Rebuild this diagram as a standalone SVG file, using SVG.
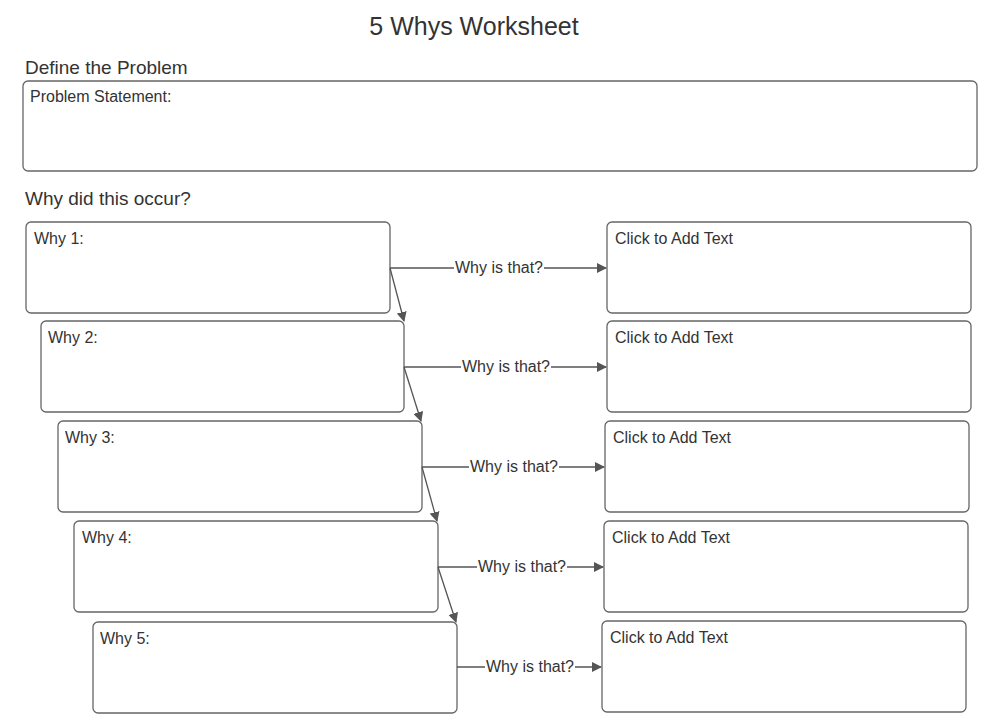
<svg xmlns="http://www.w3.org/2000/svg" width="1000" height="726" viewBox="0 0 1000 726">
<style>
text{font-family:"Liberation Sans",Arial,sans-serif;fill:#333}
.b{fill:#fff;stroke:#666;stroke-width:1.3}
.t{font-size:16px}
.h{font-size:19px}
.c{stroke:#555;stroke-width:1.3;fill:none}
.l{font-size:16px;text-anchor:middle}
.lb{fill:#fff}
</style>
<defs><marker id="a" markerWidth="10" markerHeight="10" refX="9" refY="5" orient="auto" markerUnits="userSpaceOnUse"><path d="M0,0 L10,5 L0,10 z" fill="#555"/></marker></defs>
<rect width="1000" height="726" fill="#fff"/>
<text x="474" y="35" font-size="25" text-anchor="middle">5 Whys Worksheet</text>
<text class="h" x="25" y="74">Define the Problem</text>
<text class="h" x="25" y="205">Why did this occur?</text>
<g id="problem"><rect class="b" x="23" y="81" width="954" height="90" rx="5"/><text class="t" x="30" y="102">Problem Statement:</text></g>
<g id="why1"><rect class="b" x="26" y="222" width="364" height="91" rx="5"/><text class="t" x="34" y="244">Why 1:</text></g>
<g id="why2"><rect class="b" x="41" y="321" width="363" height="91" rx="5"/><text class="t" x="48" y="343">Why 2:</text></g>
<g id="why3"><rect class="b" x="58" y="421" width="364" height="91" rx="5"/><text class="t" x="65" y="443">Why 3:</text></g>
<g id="why4"><rect class="b" x="74" y="521" width="364" height="91" rx="5"/><text class="t" x="82" y="543">Why 4:</text></g>
<g id="why5"><rect class="b" x="93" y="622" width="364" height="91" rx="5"/><text class="t" x="100" y="644">Why 5:</text></g>
<g id="ans1"><rect class="b" x="607" y="222" width="364" height="91" rx="5"/><text class="t" x="615" y="244">Click to Add Text</text></g>
<g id="ans2"><rect class="b" x="607" y="321" width="364" height="91" rx="5"/><text class="t" x="615" y="343">Click to Add Text</text></g>
<g id="ans3"><rect class="b" x="605" y="421" width="364" height="91" rx="5"/><text class="t" x="613" y="443">Click to Add Text</text></g>
<g id="ans4"><rect class="b" x="604" y="521" width="364" height="91" rx="5"/><text class="t" x="612" y="543">Click to Add Text</text></g>
<g id="ans5"><rect class="b" x="602" y="621" width="364" height="91" rx="5"/><text class="t" x="610" y="643">Click to Add Text</text></g>
<g id="connectors">
<path class="c" d="M390,268 H606" marker-end="url(#a)"/>
<path class="c" d="M404,367 H606" marker-end="url(#a)"/>
<path class="c" d="M422,467 H604" marker-end="url(#a)"/>
<path class="c" d="M438,567 H603" marker-end="url(#a)"/>
<path class="c" d="M457,667 H601" marker-end="url(#a)"/>
<path class="c" d="M390,268 L404,321" marker-end="url(#a)"/>
<path class="c" d="M404,367 L421,421" marker-end="url(#a)"/>
<path class="c" d="M422,467 L437,521" marker-end="url(#a)"/>
<path class="c" d="M438,567 L456,622" marker-end="url(#a)"/>
<rect class="lb" x="454" y="258" width="90" height="20"/><text class="l" x="499" y="273">Why is that?</text>
<rect class="lb" x="461" y="357" width="90" height="20"/><text class="l" x="506" y="372">Why is that?</text>
<rect class="lb" x="469" y="457" width="90" height="20"/><text class="l" x="514" y="472">Why is that?</text>
<rect class="lb" x="477" y="557" width="90" height="20"/><text class="l" x="522" y="572">Why is that?</text>
<rect class="lb" x="485" y="657" width="90" height="20"/><text class="l" x="530" y="672">Why is that?</text>
</g>
</svg>
